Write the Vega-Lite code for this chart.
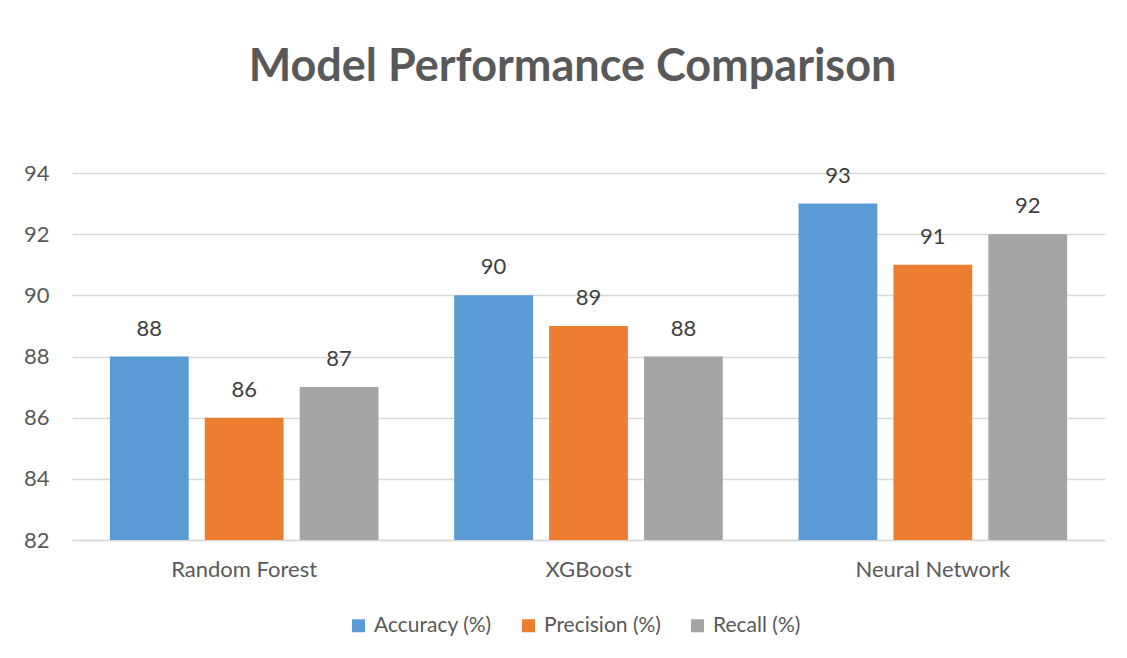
{
  "$schema": "https://vega.github.io/schema/vega-lite/v6.json",
  "autosize": {"type": "none"},
  "padding": {"left": 72, "top": 173, "right": 22, "bottom": 118},
  "width": 1033,
  "height": 367,
  "background": "white",
  "config": {"view": {"stroke": null}},
  "title": {
    "text": "Model Performance Comparison",
    "fontSize": 45,
    "font": "Lato",
    "fontWeight": "bold",
    "color": "#595959",
    "anchor": "middle",
    "dx": -16,
    "offset": 72
  },
  "data": {
    "values": [
      {"model": "Random Forest", "metric": "Accuracy (%)", "value": 88},
      {"model": "Random Forest", "metric": "Precision (%)", "value": 86},
      {"model": "Random Forest", "metric": "Recall (%)", "value": 87},
      {"model": "XGBoost", "metric": "Accuracy (%)", "value": 90},
      {"model": "XGBoost", "metric": "Precision (%)", "value": 89},
      {"model": "XGBoost", "metric": "Recall (%)", "value": 88},
      {"model": "Neural Network", "metric": "Accuracy (%)", "value": 93},
      {"model": "Neural Network", "metric": "Precision (%)", "value": 91},
      {"model": "Neural Network", "metric": "Recall (%)", "value": 92}
    ]
  },
  "encoding": {
    "x": {
      "field": "model",
      "type": "nominal",
      "sort": ["Random Forest", "XGBoost", "Neural Network"],
      "scale": {"paddingInner": 0.22, "paddingOuter": 0.11},
      "axis": {
        "title": null,
        "labelAngle": 0,
        "labelFont": "Lato",
        "labelFontSize": 22,
        "labelColor": "#595959",
        "labelPadding": 19,
        "ticks": false,
        "domainColor": "#d9d9d9",
        "domainWidth": 1.3,
        "grid": false
      }
    },
    "xOffset": {
      "field": "metric",
      "type": "nominal",
      "scale": {"paddingInner": 0.17, "paddingOuter": 0}
    },
    "y": {
      "field": "value",
      "type": "quantitative",
      "scale": {"domain": [82, 94], "zero": false, "nice": false},
      "axis": {
        "title": null,
        "values": [82, 84, 86, 88, 90, 92, 94],
        "labelFont": "Lato",
        "labelFontSize": 22,
        "labelColor": "#595959",
        "labelPadding": 23,
        "ticks": false,
        "domain": false,
        "gridColor": "#d9d9d9",
        "gridWidth": 1.3
      }
    }
  },
  "layer": [
    {
      "mark": {"type": "bar"},
      "encoding": {
        "y2": {"datum": 82},
        "color": {
          "field": "metric",
          "type": "nominal",
          "scale": {
            "domain": ["Accuracy (%)", "Precision (%)", "Recall (%)"],
            "range": ["#5B9BD5", "#ED7D31", "#A5A5A5"]
          },
          "legend": {
            "title": null,
            "orient": "none",
            "legendX": 276,
            "legendY": 442,
            "direction": "horizontal",
            "symbolType": "square",
            "symbolSize": 169,
            "labelFont": "Lato",
            "labelFontSize": 21,
            "labelColor": "#595959",
            "columnPadding": 26,
            "labelOffset": 5
          }
        }
      }
    },
    {
      "mark": {"type": "text", "dy": -16, "font": "Lato", "fontSize": 22, "color": "#404040", "baseline": "bottom"},
      "encoding": {
        "text": {"field": "value", "type": "quantitative"}
      }
    }
  ]
}
